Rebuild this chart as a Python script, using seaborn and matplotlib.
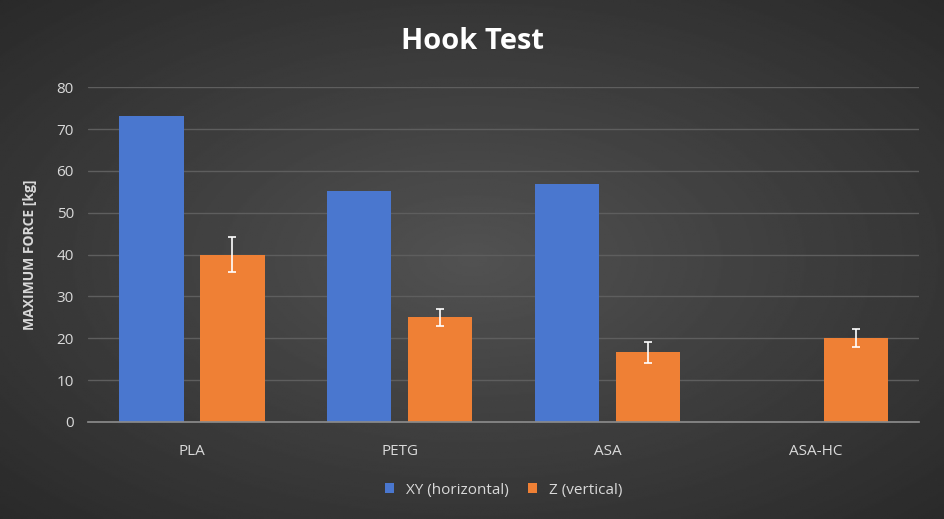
import numpy as np
import pandas as pd
import matplotlib
matplotlib.use("Agg")
import matplotlib.pyplot as plt
import seaborn as sns

materials = ["PLA", "PETG", "ASA", "ASA-HC"]
xy_force = [73.0, 55.2, 56.8, np.nan]
z_force = [40.0, 25.0, 16.6, 20.0]
z_err = [4.2, 2.0, 2.4, 2.1]
series = ["XY (horizontal)", "Z (vertical)"]

df = pd.DataFrame({
    "material": materials * 2,
    "force": xy_force + z_force,
    "series": [series[0]] * 4 + [series[1]] * 4,
})

sns.set_theme(style="dark")
plt.rcParams['font.family'] = ['Open Sans', 'DejaVu Sans']

fig = plt.figure(figsize=(9.45, 5.19), dpi=100)

# radial gradient background
bg = fig.add_axes([0, 0, 1, 1], zorder=-10)
yy, xx = np.mgrid[-1:1:300j, -1:1:500j]
r = np.sqrt(xx**2 + yy**2)
bg.imshow(0.16 + 0.16 * np.clip(1 - r / 1.45, 0, 1), cmap="gray", vmin=0, vmax=1,
          aspect="auto", extent=[0, 1, 0, 1])
bg.axis("off")

ax = fig.add_axes([0.093, 0.187, 0.88, 0.645])
ax.patch.set_alpha(0)
sns.barplot(data=df, x="material", y="force", hue="series", ax=ax, width=0.78,
            palette=["#4a77cf", "#ef8035"], saturation=1, legend=True)

for p in ax.patches:
    if p.get_height() == 0 or np.isnan(p.get_height()):
        continue
    c = p.get_x() + p.get_width() / 2
    p.set_width(0.31)
    p.set_x(c - 0.155)
    p.set_edgecolor("none")

# error bars on the Z bars
z_bars = [p for p in ax.containers[1]]
for p, e in zip(z_bars, z_err):
    ax.errorbar(p.get_x() + p.get_width() / 2, p.get_height(), yerr=e,
                fmt="none", ecolor="white", elinewidth=1.2, capsize=3, capthick=1.2)

ax.set_ylim(0, 80)
ax.set_yticks(range(0, 81, 10))
ax.yaxis.grid(True, color="#5e5e5e", linewidth=1)
ax.set_axisbelow(True)
for s in ["top", "right", "left"]:
    ax.spines[s].set_visible(False)
ax.spines["bottom"].set_color("#8a8a8a")
ax.tick_params(colors="#d9d9d9", labelsize=11, length=0)
ax.tick_params(axis="x", pad=16)
ax.tick_params(axis="y", pad=10)
ax.set_xlabel("")
ax.set_ylabel("MAXIMUM FORCE [kg]", color="#d9d9d9", fontsize=10, fontweight="bold",
              labelpad=14)
ax.set_xlim(-0.5, 3.5)

leg = ax.legend(loc="upper center", bbox_to_anchor=(0.5, -0.14), ncol=2, frameon=False,
                fontsize=11, handlelength=0.6, handleheight=0.6, columnspacing=1.2)
for t in leg.get_texts():
    t.set_color("#d9d9d9")
for h in leg.legend_handles:
    h.set_edgecolor("none")

fig.text(0.5, 0.92, "Hook Test", ha="center", va="center", color="white",
         fontsize=21, fontweight="bold")

fig.savefig("out.png", dpi=100)
